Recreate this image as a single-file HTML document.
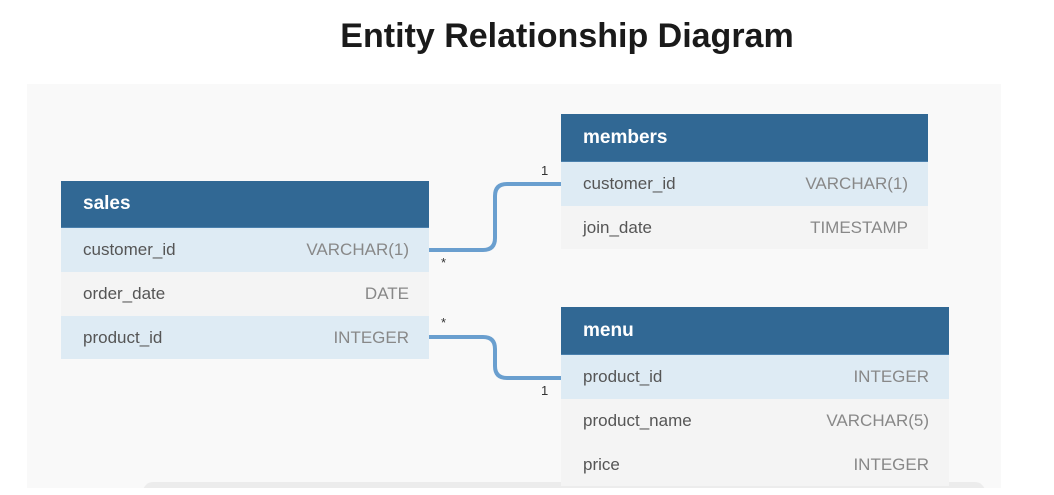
<!DOCTYPE html>
<html><head><style>
body{margin:0;width:1054px;height:495px;background:#fff;position:relative;overflow:hidden;font-family:"Liberation Sans","DejaVu Sans",sans-serif;}
.title{position:absolute;left:0;width:1134px;top:17px;text-align:center;font-weight:bold;font-size:34px;color:#1a1a1a;}
.panel{position:absolute;left:27px;top:84px;width:974px;height:404px;background:#f9f9f9;overflow:hidden;}
.bar{position:absolute;left:116px;top:398px;width:842px;height:20px;background:#ececec;border-radius:10px;}
.t{position:absolute;}
.h{background:#316894;color:#fff;font-weight:bold;font-size:19px;box-sizing:border-box;padding-left:22px;display:flex;align-items:center;border-bottom:1px solid #4a80ad;}
.r{display:flex;justify-content:space-between;align-items:center;box-sizing:border-box;padding:0 20px 0 22px;font-size:17px;color:#555;}
.r span:last-child{color:#888;}
.a{background:#deebf4;}.b{background:#f4f4f4;}
.lbl{position:absolute;font-size:13px;color:#333;}
</style></head><body>
<div class="title">Entity Relationship Diagram</div>
<div class="panel"><div class="bar"></div></div>
<svg style="position:absolute;left:0;top:0" width="1054" height="495">
<path d="M429 250 H483 Q495 250 495 238 V196 Q495 184 507 184 H561" fill="none" stroke="#6a9fcf" stroke-width="4"/>
<path d="M429 337 H483 Q495 337 495 349 V366 Q495 378 507 378 H561" fill="none" stroke="#6a9fcf" stroke-width="4"/>
</svg>
<div class="lbl" style="left:441px;top:255px">*</div>
<div class="lbl" style="left:441px;top:315px">*</div>
<div class="lbl" style="left:541px;top:163px">1</div>
<div class="lbl" style="left:541px;top:383px">1</div>
<div class="t" style="left:61px;top:181px;width:368px">
<div class="h" style="height:47px">sales</div>
<div class="r a" style="height:44px"><span>customer_id</span><span>VARCHAR(1)</span></div>
<div class="r b" style="height:44px"><span>order_date</span><span>DATE</span></div>
<div class="r a" style="height:43px"><span>product_id</span><span>INTEGER</span></div>
</div>
<div class="t" style="left:561px;top:114px;width:367px">
<div class="h" style="height:48px">members</div>
<div class="r a" style="height:44px"><span>customer_id</span><span>VARCHAR(1)</span></div>
<div class="r b" style="height:43px"><span>join_date</span><span>TIMESTAMP</span></div>
</div>
<div class="t" style="left:561px;top:307px;width:388px;height:181px;overflow:hidden">
<div class="h" style="height:48px">menu</div>
<div class="r a" style="height:44px"><span>product_id</span><span>INTEGER</span></div>
<div class="r b" style="height:44px"><span>product_name</span><span>VARCHAR(5)</span></div>
<div class="r b" style="height:43px"><span>price</span><span>INTEGER</span></div>
</div>
</body></html>
